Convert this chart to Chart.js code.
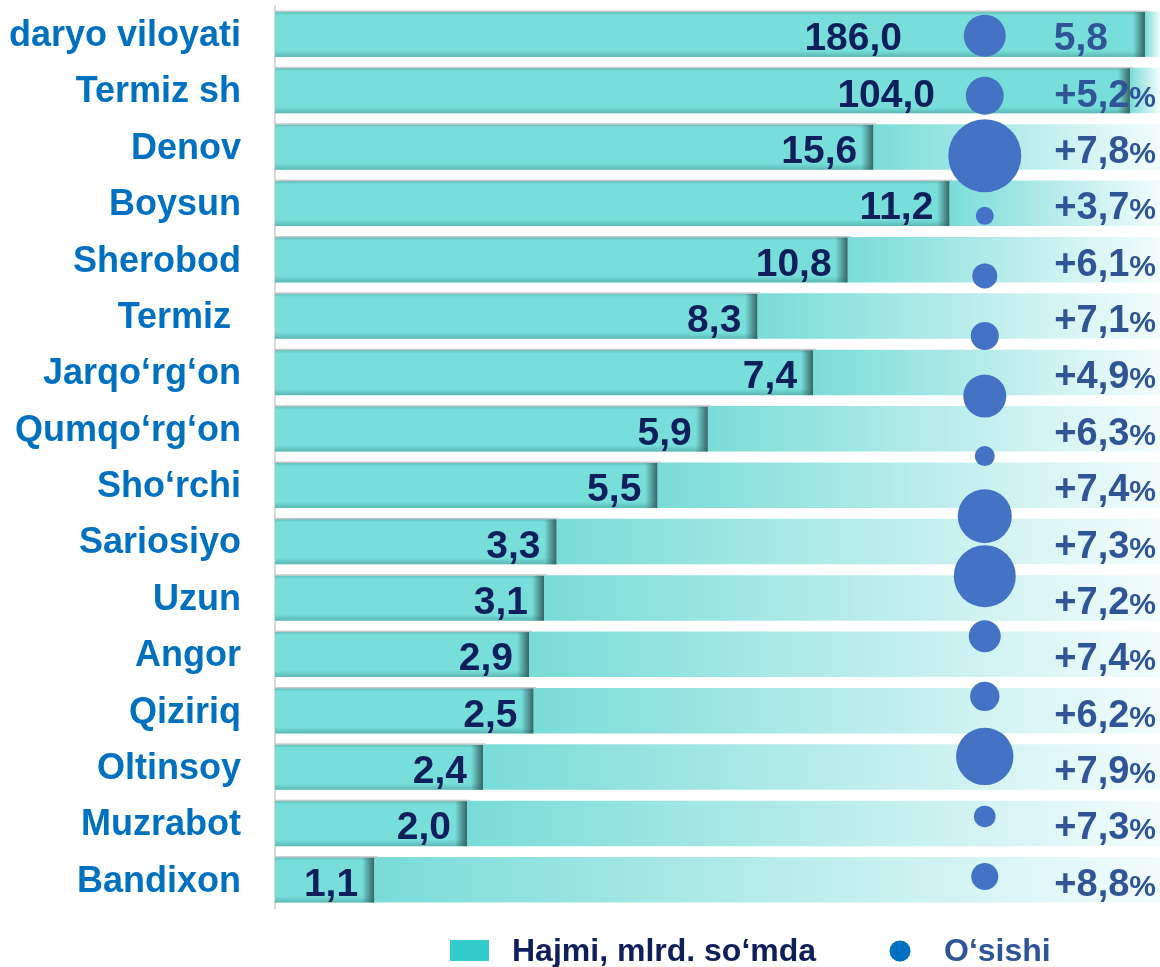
<!DOCTYPE html>
<html>
<head>
<meta charset="utf-8">
<script src="https://cdn.jsdelivr.net/npm/chart.js@4.4.0/dist/chart.umd.min.js"></script>
<style>
  html, body { margin: 0; padding: 0; background: #fff; }
  #wrap { width: 1160px; height: 967px; }
</style>
</head>
<body>
<div id="wrap"><canvas id="grafico"></canvas></div>
<script>
const tumanlar = ["daryo viloyati", "Termiz sh", "Denov", "Boysun", "Sherobod", "Termiz ", "Jarqo‘rg‘on", "Qumqo‘rg‘on", "Sho‘rchi", "Sariosiyo", "Uzun", "Angor", "Qiziriq", "Oltinsoy", "Muzrabot", "Bandixon"];
const hajmi = [186.0, 104.0, 15.6, 11.2, 10.8, 8.3, 7.4, 5.9, 5.5, 3.3, 3.1, 2.9, 2.5, 2.4, 2.0, 1.1];
// ustun uzunligi rasmdagidek (o'qning % ulushi)
const uzunlik = [98.3, 96.6, 67.6, 76.2, 64.7, 54.5, 60.8, 48.9, 43.2, 31.8, 30.4, 28.7, 29.2, 23.5, 21.7, 11.2];
const osishi = [5.8, 5.2, 7.8, 3.7, 6.1, 7.1, 4.9, 6.3, 7.4, 7.3, 7.2, 7.4, 6.2, 7.9, 7.3, 8.8];
// doiralar radiusi (px)
const doira = [21, 19, 36.5, 9, 12.5, 14, 21.5, 10, 27, 31, 16, 14.7, 28.7, 10.8, 13.5];

const SHRIFT = '"Liberation Sans", Arial, sans-serif';

function raqam(v) {
  return v.toFixed(1).replace('.', ',');
}

const bezak = {
  id: 'bezak',
  afterDatasetDraw(chart, args) {
    if (args.index !== 1) return;
    const c = chart.ctx;
    c.save();
    args.meta.data.forEach(bar => {
      const top = bar.y - bar.height / 2;
      const h = bar.height;
      const left = bar.base;
      let g = c.createLinearGradient(0, top, 0, top + h);
      g.addColorStop(0, 'rgba(70,160,155,0.55)');
      g.addColorStop(0.08, 'rgba(70,160,155,0)');
      g.addColorStop(0.86, 'rgba(70,160,155,0)');
      g.addColorStop(1, 'rgba(70,160,155,0.6)');
      c.fillStyle = g;
      c.fillRect(left, top, bar.x - left, h);
      // o'ng uchidagi soya
      g = c.createLinearGradient(bar.x - 12, 0, bar.x, 0);
      g.addColorStop(0, 'rgba(50,95,95,0)');
      g.addColorStop(1, 'rgba(50,95,95,0.95)');
      c.fillStyle = g;
      c.fillRect(bar.x - 12, top, 12, h);
      c.fillStyle = '#c8c8c8';
      c.fillRect(left, top - 1, bar.x - left + 3, 1.5);
    });
    c.restore();
  },
  afterDatasetsDraw(chart) {
    const c = chart.ctx;
    const bars = chart.getDatasetMeta(1).data;
    c.save();
    c.textBaseline = 'alphabetic';
    c.textAlign = 'right';
    bars.forEach((bar, i) => {
      const asos = bar.y + 16;
      c.font = 'bold 39px ' + SHRIFT;
      c.fillStyle = '#0E1F5B';
      const oxiri = Math.min(bar.x - 16, i === 0 ? 902 : 935);
      c.fillText(raqam(hajmi[i]), oxiri, asos);

      c.fillStyle = '#2F5597';
      if (i === 0) {
        c.fillText(raqam(osishi[i]), 1108, asos);
      } else {
        c.font = 'bold 30px ' + SHRIFT;
        c.fillText('%', 1156, asos);
        const w = c.measureText('%').width;
        c.font = 'bold 38px ' + SHRIFT;
        c.fillText('+' + raqam(osishi[i]), 1156 - w, asos);
      }
    });
    c.restore();
  },
  afterDraw(chart) {
    const c = chart.ctx;
    const ds = chart.data.datasets;
    c.save();
    c.textBaseline = 'middle';
    c.textAlign = 'left';
    c.font = 'bold 32px ' + SHRIFT;
    c.fillStyle = '#33CCCC';
    c.fillRect(450, 940, 39, 21);
    c.fillStyle = '#0E1F5B';
    c.fillText(ds[1].label, 512, 952);
    c.fillStyle = '#0070C0';
    c.beginPath();
    c.arc(900, 951, 10.5, 0, Math.PI * 2);
    c.fill();
    c.fillStyle = '#2F5597';
    c.fillText(ds[0].label, 944, 952);
    c.restore();
  }
};

const ctx = document.getElementById('grafico').getContext('2d');

new Chart(ctx, {
  type: 'bar',
  data: {
    labels: tumanlar,
    datasets: [
      {
        type: 'bubble',
        label: 'O‘sishi',
        data: doira.map((r, i) => ({ x: 80.2, y: i, r: r })),
        backgroundColor: '#4472C4',
        borderWidth: 0,
        xAxisID: 'x',
        yAxisID: 'y2',
        clip: false,
        order: 0
      },
      {
        label: 'Hajmi, mlrd. so‘mda',
        data: uzunlik,
        backgroundColor: '#78DEDA',
        borderWidth: 0,
        barPercentage: 0.805,
        categoryPercentage: 1,
        grouped: false,
        yAxisID: 'y',
        order: 1
      },
      {
        label: 'fon',
        data: uzunlik.map(v => [v, 100]),
        backgroundColor(c) {
          const chart = c.chart;
          const area = chart.chartArea;
          if (!area || c.type !== 'data') return '#a6e8e5';
          const x0 = chart.scales.x.getPixelForValue(c.raw[0]);
          const g = chart.ctx.createLinearGradient(x0, 0, area.right, 0);
          g.addColorStop(0, '#79DCD8');
          g.addColorStop(1, '#F2FCFC');
          return g;
        },
        borderWidth: 0,
        barPercentage: 0.805,
        categoryPercentage: 1,
        grouped: false,
        yAxisID: 'y',
        order: 2
      }
    ]
  },
  options: {
    responsive: true,
    maintainAspectRatio: false,
    animation: false,
    indexAxis: 'y',
    layout: { autoPadding: false, padding: { top: 6, bottom: 59, left: 0, right: 0 } },
    plugins: {
      legend: { display: false },
      tooltip: { enabled: false }
    },
    scales: {
      x: { type: 'linear', min: 0, max: 100, display: false },
      y: {
        type: 'category',
        position: 'left',
        grid: { drawOnChartArea: false, drawTicks: false },
        border: { display: true, color: '#d9d9d9', width: 2 },
        ticks: {
          color: '#0070C0',
          padding: 34,
          labelOffset: 2,
          font: { family: SHRIFT, size: 36, weight: 'bold' }
        },
        afterFit(s) {
          s.width = 275;
          s.paddingTop = 0;
          s.paddingBottom = 0;
        }
      },
      y2: {
        type: 'linear',
        display: false,
        offset: false,
        bounds: 'data',
        reverse: true,
        min: -0.494,
        max: 14.524
      }
    }
  },
  plugins: [bezak]
});
</script>
</body>
</html>
